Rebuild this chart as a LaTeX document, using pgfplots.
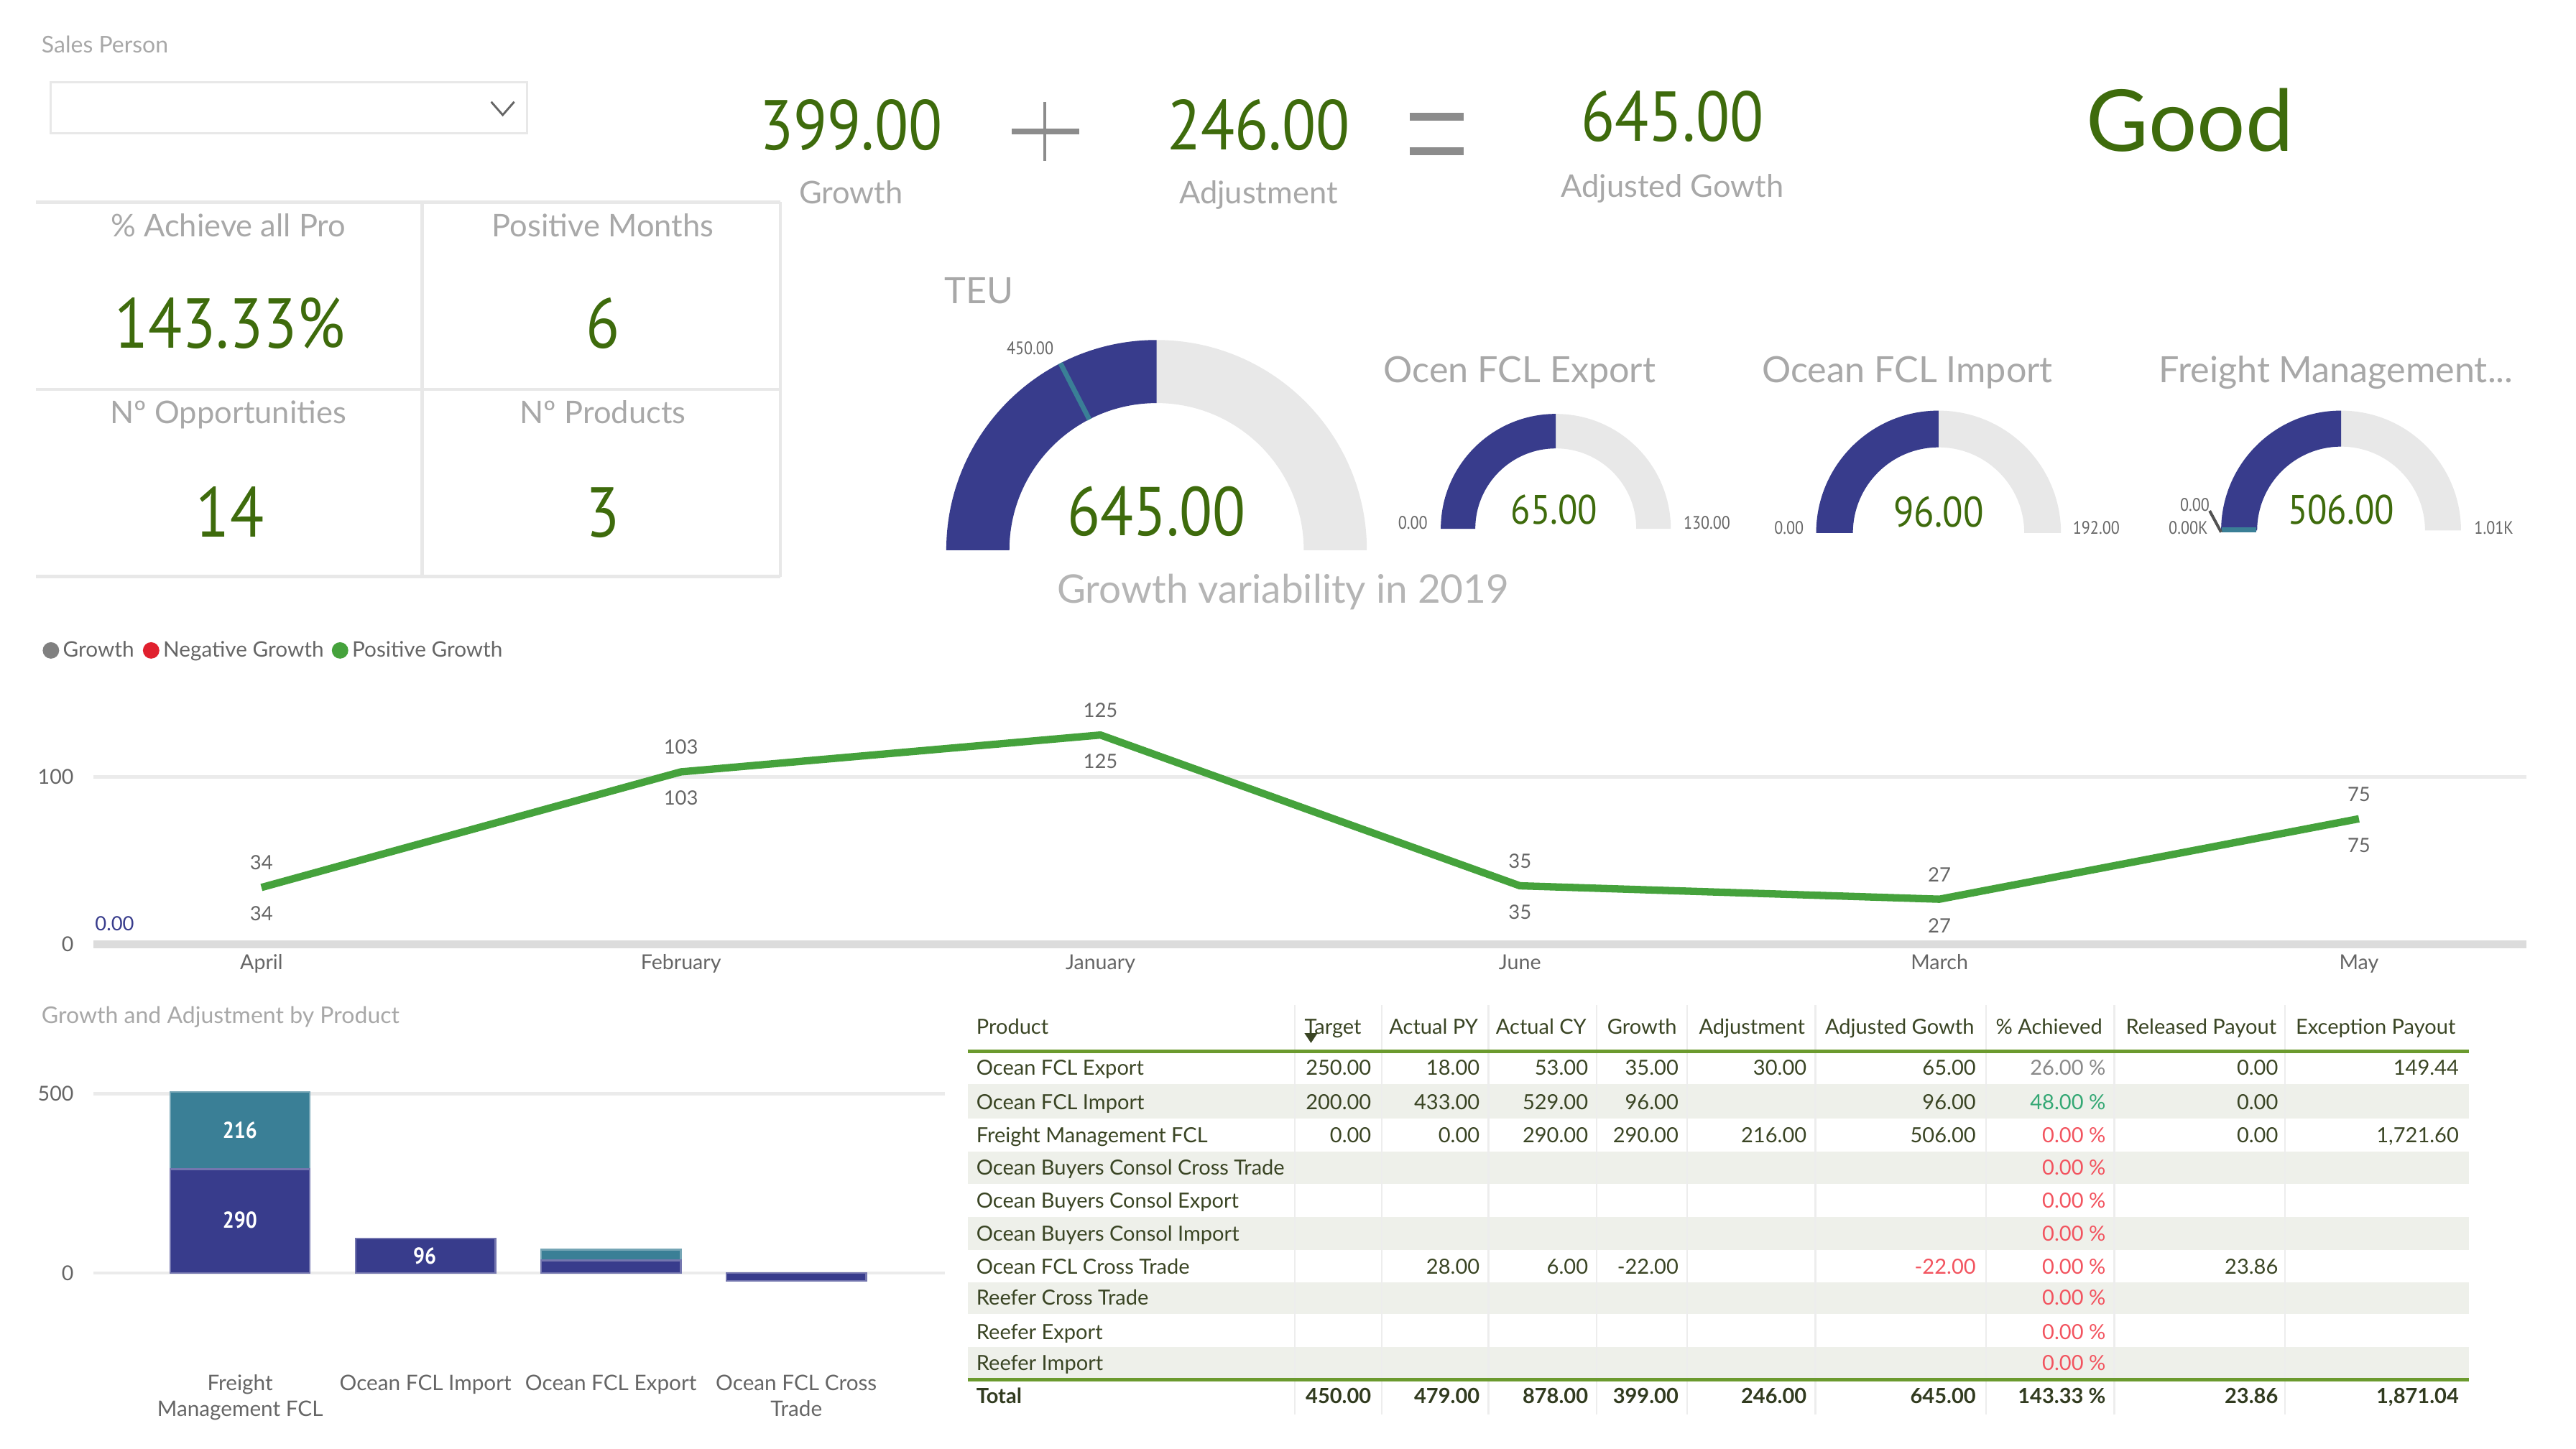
\documentclass[border=0pt]{standalone}
\usepackage{fontspec}
\setmainfont{Lato}
\newfontfamily\din[FakeStretch=0.88]{PT Sans}
\usepackage{pgfplots}
\pgfplotsset{compat=1.18}

\definecolor{kgreen}{HTML}{3E6B0C}
\definecolor{ttl}{HTML}{A8A8A8}
\definecolor{lbl}{HTML}{666666}
\definecolor{gblue}{HTML}{383C8C}
\definecolor{gteal}{HTML}{3A7F96}
\definecolor{gtrack}{HTML}{E8E8E8}
\definecolor{lgreen}{HTML}{45A23C}
\definecolor{lred}{HTML}{E0202E}
\definecolor{lgray}{HTML}{808080}
\definecolor{tabtxt}{HTML}{3A4524}
\definecolor{tabline}{HTML}{6B9A2E}
\definecolor{tabshade}{HTML}{EEF0EA}
\definecolor{pctred}{HTML}{F2545F}
\definecolor{pctgreen}{HTML}{34A874}
\definecolor{pctgray}{HTML}{8A8A8A}
\definecolor{gridc}{HTML}{EBEBEB}
\definecolor{basec}{HTML}{DCDCDC}
\definecolor{cardline}{HTML}{E8E8E8}
\definecolor{opgray}{HTML}{8C8C8C}

% font size given in reference pixels (1568 wide picture)
\newcommand\fs[1]{\fontsize{\fpeval{#1*0.569}pt}{\fpeval{#1*0.683}pt}\selectfont}

% half-ring gauge: centre x, centre y, outer radius, value, maximum
\newcommand\gauge[5]{%
  \pgfmathsetmacro\gR{#3*0.2}%
  \pgfmathsetmacro\gr{#3*0.14}%
  \pgfmathsetmacro\gf{#4/#5}%
  \pgfmathsetmacro\ga{180-180*\gf}%
  \fill[gtrack] ([shift={(0:\gR mm)}]#1,#2) arc[start angle=0,end angle=180,radius=\gR mm]
    -- ([shift={(180:\gr mm)}]#1,#2) arc[start angle=180,end angle=0,radius=\gr mm] -- cycle;
  \fill[gblue] ([shift={(180:\gR mm)}]#1,#2) arc[start angle=180,end angle=\ga,radius=\gR mm]
    -- ([shift={(\ga:\gr mm)}]#1,#2) arc[start angle=\ga,end angle=180,radius=\gr mm] -- cycle;
}

% table row: centre y (px from top), product, nine cells
\newcommand\trow[3]{%
  \node[anchor=base west] at (594,{882-#1-4.5}) {#2};
  \foreach \v [count=\i] in {#3} {%
    \pgfmathsetmacro\cx{{835,901,967,1022,1100,1203,1282,1387,1497}[\i-1]}%
    \node[anchor=base east] at (\cx,{882-#1-4.5}) {\v};
  }%
}
\newcommand\zr{\textcolor{pctred}{0.00 \%}}

\pgfplotsset{dash/.style={
  scale only axis, clip=false,
  axis line style={draw=none}, tick style={draw=none},
  /pgf/number format/assume math mode=true,
  ticklabel style={font=\fs{12.5}, text=lbl},
  yticklabel style={xshift=-1.2mm}}}

\begin{document}
\begin{tikzpicture}
\path[use as bounding box] (0,0) rectangle (313.6mm,176.4mm);

% ---- growth by month (axis box: x 57..1538 px, y 0 at 575 px)
\begin{axis}[dash, at={(11.4mm,61.4mm)}, anchor=south west,
  width=296.2mm, height=28.56mm,
  xmin=-0.4, xmax=5.4, ymin=0, ymax=140,
  xtick={0,...,5}, xticklabels={April,February,January,June,March,May},
  ytick={100}, ymajorgrids, grid style={draw=gridc,line width=0.5mm},
  extra y ticks={0}, extra y tick style={grid=major, major grid style={draw=basec,line width=1mm}}]
\addplot[lgreen, line width=0.9mm, line join=round, mark=none,
  nodes near coords, nodes near coords style={font=\fs{12}, text=lbl, anchor=center, yshift=3mm}]
  coordinates {(0,34) (1,103) (2,125) (3,35) (4,27) (5,75)};
\addplot[draw=none, mark=none,
  nodes near coords, nodes near coords style={font=\fs{12}, text=lbl, anchor=center, yshift=-3.2mm}]
  coordinates {(0,34) (1,103) (2,125) (3,35) (4,27) (5,75)};
\node[text=gblue, font=\fs{12}] at (axis cs:-0.35,12.5) {0.00};
\end{axis}

% ---- growth and adjustment by product (axis box: x 57..575 px, 0 at 775 px)
\begin{axis}[dash, at={(11.4mm,19.22mm)}, anchor=south west,
  width=103.6mm, height=26.16mm,
  xmin=-0.79, xmax=3.8, ymin=-50, ymax=550,
  ybar stacked, bar width=17mm,
  xtick={0,1,2,3},
  xticklabels={{Freight\\Management FCL},{Ocean FCL Import},{Ocean FCL Export},{Ocean FCL Cross\\Trade}},
  xticklabel style={align=center, font=\fs{13}, yshift=-9mm},
  ytick={0,500}, ymajorgrids, grid style={draw=gridc,line width=0.4mm}]
\addplot[fill=gblue, draw=gblue!70!white, line width=0.2mm] coordinates {(0,290) (1,96) (2,35) (3,-22)};
\addplot[fill=gteal, draw=gteal!70!white, line width=0.2mm] coordinates {(0,216) (1,0) (2,30) (3,0)};
\end{axis}

\begin{scope}[x=0.2mm,y=0.2mm]
% bar labels
\begin{scope}[every node/.style={text=white, font=\din\bfseries\fs{14}, inner sep=0pt}]
\node at (146,139) {290};
\node at (146,194) {216};
\node at (258.5,117.5) {96};
\end{scope}

% ---- slicer
\node[anchor=base west,text=ttl,font=\fs{14},inner sep=0pt] at (25,850) {Sales Person};
\draw[cardline,line width=0.25mm] (31,832) rectangle (321,801);
\draw[lbl,line width=0.25mm] (299,820) -- (306,812) -- (313,820);

% ---- KPI cards
\draw[cardline,line width=0.4mm] (22,759) -- (475,759) (22,645) -- (475,645) (22,531) -- (475,531)
  (257,759) -- (257,531) (475,759) -- (475,531);
\begin{scope}[every node/.style={inner sep=0pt,anchor=base}]
\node[text=ttl,font=\fs{19}] at (139,738) {\% Achieve all Pro};
\node[text=ttl,font=\fs{19}] at (367,738) {Positive Months};
\node[text=ttl,font=\fs{19}] at (139,624) {Nº Opportunities};
\node[text=ttl,font=\fs{19}] at (367,624) {Nº Products};
\node[text=kgreen,font=\din\fs{43}] at (140,670) {143.33\%};
\node[text=kgreen,font=\din\fs{43}] at (367,670) {6};
\node[text=kgreen,font=\din\fs{43}] at (140,555) {14};
\node[text=kgreen,font=\din\fs{43}] at (367,555) {3};

% ---- formula row
\node[text=kgreen,font=\din\fs{43}] at (518,791) {399.00};
\node[text=kgreen,font=\din\fs{43}] at (766,791) {246.00};
\node[text=kgreen,font=\din\fs{43}] at (1018,796) {645.00};
\node[text=kgreen,font=\fs{52}] at (1333,790) {Good};
\node[text=ttl,font=\fs{19}] at (518,758) {Growth};
\node[text=ttl,font=\fs{19}] at (766,758) {Adjustment};
\node[text=ttl,font=\fs{19}] at (1018,762) {Adjusted Gowth};
\end{scope}
\draw[opgray,line width=0.7mm] (616,802) -- (657,802);
\draw[opgray,line width=0.3mm] (636,820) -- (636,784);
\draw[opgray,line width=1mm] (858,811) -- (891,811) (858,790) -- (891,790);

% ---- gauges
\gauge{704}{547}{128}{645}{1290}
\gauge{947}{560}{70}{65}{130}
\gauge{1180}{557.5}{74.5}{96}{192}
\gauge{1425}{559}{73}{506}{1012}
\draw[gteal,line width=0.6mm] ([shift={(117.2:17.9mm)}]704,547) -- ([shift={(117.2:25.6mm)}]704,547);
\draw[gteal,line width=0.6mm] (1352.5,559.6) -- (1373.5,559.6);
\draw[lbl!80!black,line width=0.35mm] (1345,571) -- (1352,558);
\begin{scope}[every node/.style={inner sep=0pt,anchor=base}]
\node[text=ttl,font=\fs{22}] at (596,697) {TEU};
\node[text=lbl,font=\din\fs{11}] at (627,666) {450.00};
\node[text=kgreen,font=\din\fs{42}] at (704,556) {645.00};
\node[text=ttl!85,font=\fs{24}] at (781,515) {Growth variability in 2019};
\node[text=ttl,font=\fs{22}] at (925,649) {Ocen FCL Export};
\node[text=ttl,font=\fs{22}] at (1161,649) {Ocean FCL Import};
\node[text=ttl,font=\fs{22}] at (1422,649) {Freight Management...};
\node[text=kgreen,font=\din\fs{25}] at (946,563) {65.00};
\node[text=kgreen,font=\din\fs{26}] at (1180,561) {96.00};
\node[text=kgreen,font=\din\fs{25}] at (1425,563) {506.00};
\node[text=lbl,font=\din\fs{11}] at (860,560) {0.00};
\node[text=lbl,font=\din\fs{11}] at (1039,560) {130.00};
\node[text=lbl,font=\din\fs{11}] at (1089,557) {0.00};
\node[text=lbl,font=\din\fs{11}] at (1276,557) {192.00};
\node[text=lbl,font=\din\fs{11}] at (1336,571) {0.00};
\node[text=lbl,font=\din\fs{11}] at (1332,557) {0.00K};
\node[text=lbl,font=\din\fs{11}] at (1518,557) {1.01K};
\end{scope}

% ---- line chart legend
\fill[lgray] (31,486) circle[radius=1mm];
\fill[lred] (92,486) circle[radius=1mm];
\fill[lgreen] (207,486) circle[radius=1mm];
\begin{scope}[every node/.style={inner sep=0pt,anchor=base west,text=lbl,font=\fs{13}}]
\node at (38,482) {Growth};
\node at (99,482) {Negative Growth};
\node at (214,482) {Positive Growth};
\end{scope}
\node[anchor=base west,inner sep=0pt,text=ttl,font=\fs{14}] at (25,259) {Growth and Adjustment by Product};

% ---- table
\foreach \a/\b in {660/681, 701/721, 741/761, 780.5/800, 820/840}
  \fill[tabshade] (589,882-\a) rectangle (1503,882-\b);
\foreach \cx in {788,841,906,972,1027,1105,1209,1287,1391}
  \draw[white!93!black,line width=0.2mm] (\cx,882-612) -- (\cx,882-861);
\draw[tabline,line width=0.4mm] (589,242) -- (1503,242);
\draw[tabline,line width=0.4mm] (589,42) -- (1503,42);
\fill[tabtxt] (794,253) -- (802,253) -- (798,247) -- cycle;
\begin{scope}[every node/.style={inner sep=0pt,font=\fs{12.7},text=tabtxt}]
\node[anchor=base west] at (594,252.5) {Product};
\foreach \h/\cx in {Target/829, Actual PY/900, Actual CY/966, Growth/1021, Adjustment/1099,
  Adjusted Gowth/1202, \% Achieved/1280, Released Payout/1386, Exception Payout/1495}
  \node[anchor=base east] at (\cx,252.5) {\h};
\trow{650}{Ocean FCL Export}{250.00,18.00,53.00,35.00,30.00,65.00,\textcolor{pctgray}{26.00 \%},0.00,149.44}
\trow{671}{Ocean FCL Import}{200.00,433.00,529.00,96.00,{},96.00,\textcolor{pctgreen}{48.00 \%},0.00,{}}
\trow{691}{Freight Management FCL}{0.00,0.00,290.00,290.00,216.00,506.00,\zr,0.00,{1,721.60}}
\trow{711}{Ocean Buyers Consol Cross Trade}{{},{},{},{},{},{},\zr,{},{}}
\trow{731}{Ocean Buyers Consol Export}{{},{},{},{},{},{},\zr,{},{}}
\trow{751}{Ocean Buyers Consol Import}{{},{},{},{},{},{},\zr,{},{}}
\trow{771}{Ocean FCL Cross Trade}{{},28.00,6.00,-22.00,{},\textcolor{pctred}{-22.00},\zr,23.86,{}}
\trow{790}{Reefer Cross Trade}{{},{},{},{},{},{},\zr,{},{}}
\trow{811}{Reefer Export}{{},{},{},{},{},{},\zr,{},{}}
\trow{830}{Reefer Import}{{},{},{},{},{},{},\zr,{},{}}
\end{scope}
\begin{scope}[every node/.style={inner sep=0pt,font=\fs{12.7}\bfseries,text=tabtxt!85!black}]
\trow{850}{Total}{450.00,479.00,878.00,399.00,246.00,645.00,143.33 \%,23.86,{1,871.04}}
\end{scope}
\end{scope}
\end{tikzpicture}
\end{document}
